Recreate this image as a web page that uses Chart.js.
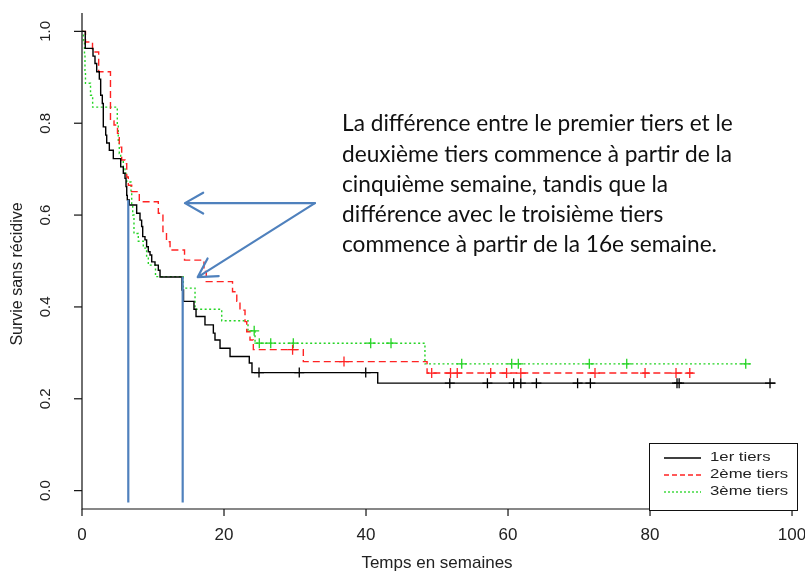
<!DOCTYPE html>
<html lang="fr">
<head>
<meta charset="utf-8">
<title>Survie sans récidive par tiers</title>
<script src="https://cdn.jsdelivr.net/npm/chart.js@4/dist/chart.umd.min.js"></script>
<style>
  html, body { margin: 0; padding: 0; background: #fff; }
  #wrap { position: relative; width: 805px; height: 571px; }
</style>
</head>
<body>
<div id="wrap"><canvas id="survChart" width="805" height="571"></canvas></div>
<script>
// Kaplan-Meier steps: week of each drop and survival right after it (last entry = end of follow-up)
const tier1Times = [0, 0.46, 1.55, 1.83, 2.07, 2.44, 2.63, 2.86, 3.0, 3.34, 3.48, 3.85, 4.41, 5.45, 5.82, 6.06, 6.2, 6.3, 6.38, 6.66, 7.7, 8.17, 8.4, 8.55, 8.87, 9.1, 9.34, 9.58, 9.82, 10.28, 10.75, 10.99, 14.08, 14.3, 15.77, 16.06, 17.32, 18.5, 18.73, 19.44, 20.85, 23.56, 23.94, 41.65, 97.7];
const tier1Surv  = [1.0, 0.963, 0.946, 0.930, 0.912, 0.896, 0.861, 0.843, 0.792, 0.774, 0.757, 0.741, 0.723, 0.705, 0.691, 0.680, 0.662, 0.643, 0.633, 0.622, 0.604, 0.589, 0.575, 0.553, 0.546, 0.531, 0.520, 0.513, 0.498, 0.491, 0.480, 0.465, 0.437, 0.412, 0.395, 0.379, 0.361, 0.343, 0.328, 0.310, 0.292, 0.278, 0.257, 0.234, 0.234];
const tier1Censor = [24.93, 30.6, 39.96, 51.8, 57.1, 60.8, 61.8, 64.0, 69.8, 71.6, 83.8, 84.1, 96.9];

const tier2Times = [0, 0.49, 1.48, 2.35, 4.01, 4.51, 5.0, 5.25, 5.59, 6.06, 6.3, 6.52, 7.0, 8.07, 10.75, 11.4, 11.9, 12.4, 14.44, 17.18, 17.5, 21.2, 21.8, 22.25, 22.96, 23.2, 23.66, 24.13, 31.17, 48.6, 86.6];
const tier2Surv  = [1.0, 0.977, 0.955, 0.912, 0.805, 0.796, 0.778, 0.748, 0.720, 0.712, 0.683, 0.665, 0.651, 0.629, 0.604, 0.564, 0.542, 0.524, 0.502, 0.477, 0.455, 0.433, 0.412, 0.393, 0.368, 0.346, 0.328, 0.307, 0.281, 0.256, 0.256];
const tier2Censor = [29.66, 36.9, 49.25, 51.9, 52.85, 57.56, 59.8, 61.8, 72.25, 79.3, 83.66, 85.6];

const tier3Times = [0, 0.2, 0.35, 0.42, 0.49, 1.2, 1.5, 4.97, 5.11, 5.25, 5.45, 5.82, 6.06, 6.3, 6.9, 7.0, 7.14, 7.32, 7.93, 8.63, 9.1, 9.34, 10.35, 14.27, 15.92, 19.68, 23.38, 24.37, 48.3, 94.3];
const tier3Surv  = [1.0, 0.98, 0.948, 0.915, 0.887, 0.861, 0.835, 0.796, 0.763, 0.734, 0.716, 0.702, 0.691, 0.672, 0.650, 0.625, 0.600, 0.560, 0.543, 0.528, 0.509, 0.491, 0.466, 0.441, 0.395, 0.370, 0.348, 0.321, 0.276, 0.276];
const tier3Censor = [24.25, 24.97, 26.58, 29.76, 40.66, 43.52, 53.48, 60.52, 61.45, 71.45, 76.72, 93.48];

// axis ticks
const weekTicks = [0, 20, 40, 60, 80, 100];
const survTicks = [0, 0.2, 0.4, 0.6, 0.8, 1.0];

// where the curves start to split (week, survival)
const splitWeeks = [6.52, 14.18];
const splitSurv  = [0.633, 0.465];
const splitFloor = -0.026;

// callout arrows (week, survival)
const arrowTail  = { x: 32.8, y: 0.626 };
const arrowHeads = [{ x: 14.5, y: 0.626 }, { x: 16.3, y: 0.465 }];

const seriesNames = ['1er tiers', '2ème tiers', '3ème tiers'];
const noteLines = [
    'La différence entre le premier tiers et le',
    'deuxième tiers commence à partir de la',
    'cinquième semaine, tandis que la',
    'différence avec le troisième tiers',
    'commence à partir de la 16e semaine.'
];

const RED = '#ff2323';
const GREEN = '#25d425';
const BLUE = '#4f81bd';
const R_FONT = '"Liberation Sans", Arial, sans-serif';

function levelAt(times, surv, t) {
    let s = surv[0];
    for (let i = 0; i < times.length; i++) {
        if (times[i] <= t) s = surv[i];
    }
    return s;
}

function stepData(times, surv) {
    return times.map((t, i) => ({ x: t, y: surv[i] }));
}

function censorData(times, surv, marks) {
    return marks.map(t => ({ x: t, y: levelAt(times, surv, t) }));
}

function curve(label, times, surv, color, dash) {
    return {
        label, data: stepData(times, surv), borderColor: color, borderWidth: 1.4,
        borderDash: dash, stepped: true, pointRadius: 0, fill: false, order: 3
    };
}

function marks(label, times, surv, cens, color) {
    return {
        label, data: censorData(times, surv, cens), showLine: false,
        pointStyle: 'cross', pointRadius: 5, pointBorderWidth: 1.3,
        borderColor: color, backgroundColor: color, order: 2
    };
}

const splitLines = splitWeeks.map((w, i) => ({
    label: 'split' + i,
    data: [{ x: w, y: splitSurv[i] }, { x: w, y: splitFloor }],
    borderColor: BLUE, borderWidth: 2.2, pointRadius: 0, order: 0
}));

// wide text, like the stretched R output
function wideText(ctx, text, px, py, sx) {
    ctx.save();
    ctx.translate(px, py);
    ctx.scale(sx, 1);
    ctx.fillText(text, 0, 0);
    ctx.restore();
}

// axes, legend and callout drawn R-style on top of the chart area
const decorPlugin = {
    id: 'decor',
    afterDraw(chart) {
        const { ctx, chartArea: a, scales: { x, y } } = chart;
        ctx.save();
        ctx.strokeStyle = '#111';
        ctx.fillStyle = '#222';
        ctx.lineWidth = 1.2;

        // frame lines
        ctx.beginPath();
        ctx.moveTo(a.left, a.top);
        ctx.lineTo(a.left, a.bottom);
        ctx.lineTo(a.right, a.bottom);
        ctx.stroke();

        // x ticks + labels
        ctx.font = '17px ' + R_FONT;
        ctx.textAlign = 'center';
        ctx.textBaseline = 'middle';
        weekTicks.forEach(v => {
            const px = x.getPixelForValue(v);
            ctx.beginPath();
            ctx.moveTo(px, a.bottom);
            ctx.lineTo(px, a.bottom + 7);
            ctx.stroke();
            ctx.fillText(String(v), px, 535);
        });

        // y ticks + rotated labels
        survTicks.forEach(v => {
            const py = y.getPixelForValue(v);
            ctx.beginPath();
            ctx.moveTo(a.left, py);
            ctx.lineTo(a.left - 8, py);
            ctx.stroke();
            ctx.save();
            ctx.translate(46, py);
            ctx.rotate(-Math.PI / 2);
            ctx.font = '15px "Liberation Sans Narrow", ' + R_FONT;
            ctx.fillText(v.toFixed(1), 0, 0);
            ctx.restore();
        });

        // axis titles
        ctx.font = '17px ' + R_FONT;
        ctx.fillText('Temps en semaines', 437, 563);
        ctx.save();
        ctx.translate(18, 274);
        ctx.rotate(-Math.PI / 2);
        ctx.font = '16px "Liberation Sans Narrow", ' + R_FONT;
        ctx.fillText('Survie sans récidive', 0, 0);
        ctx.restore();

        // legend box
        const lx = 649, ly = 443, lw = 148, lh = 67;
        ctx.fillStyle = '#fff';
        ctx.fillRect(lx, ly, lw, lh);
        ctx.lineWidth = 1;
        ctx.strokeRect(lx + 0.5, ly + 0.5, lw, lh);
        const legendStyles = [['#000', []], [RED, [5, 3]], [GREEN, [2, 2]]];
        const rows = [458, 475, 492];
        ctx.font = '12.5px ' + R_FONT;
        ctx.textAlign = 'left';
        legendStyles.forEach(([c, d], i) => {
            ctx.strokeStyle = c;
            ctx.setLineDash(d);
            ctx.lineWidth = 1.3;
            ctx.beginPath();
            ctx.moveTo(664, rows[i]);
            ctx.lineTo(701, rows[i]);
            ctx.stroke();
            ctx.setLineDash([]);
            ctx.fillStyle = '#222';
            wideText(ctx, seriesNames[i], 710, rows[i], 1.34);
        });

        // callout arrows
        const tx = x.getPixelForValue(arrowTail.x), ty = y.getPixelForValue(arrowTail.y);
        ctx.strokeStyle = BLUE;
        ctx.lineWidth = 2.2;
        ctx.lineCap = 'round';
        arrowHeads.forEach(h => {
            const hx = x.getPixelForValue(h.x), hy = y.getPixelForValue(h.y);
            const ang = Math.atan2(ty - hy, tx - hx);
            ctx.beginPath();
            ctx.moveTo(tx, ty);
            ctx.lineTo(hx, hy);
            [0.52, -0.52].forEach(da => {
                ctx.moveTo(hx, hy);
                ctx.lineTo(hx + 21 * Math.cos(ang + da), hy + 21 * Math.sin(ang + da));
            });
            ctx.stroke();
        });

        // note text
        ctx.fillStyle = '#111';
        ctx.textBaseline = 'middle';
        ctx.font = '19px Lato, "Open Sans", sans-serif';
        const w0 = ctx.measureText(noteLines[0]).width;
        const size = 19 * 391 / w0;
        ctx.font = size.toFixed(2) + 'px Lato, "Open Sans", sans-serif';
        noteLines.forEach((line, i) => ctx.fillText(line, 342, 124 + i * 30.2));

        ctx.restore();
    }
};

new Chart(document.getElementById('survChart'), {
    type: 'line',
    data: {
        datasets: [
            ...splitLines,
            marks('c1', tier1Times, tier1Surv, tier1Censor, '#000'),
            marks('c2', tier2Times, tier2Surv, tier2Censor, RED),
            marks('c3', tier3Times, tier3Surv, tier3Censor, GREEN),
            curve(seriesNames[0], tier1Times, tier1Surv, '#000', []),
            curve(seriesNames[1], tier2Times, tier2Surv, RED, [7, 4]),
            curve(seriesNames[2], tier3Times, tier3Surv, GREEN, [2, 2.5])
        ]
    },
    options: {
        responsive: false,
        animation: false,
        layout: { padding: { left: 82, right: 8, top: 13, bottom: 62 } },
        scales: {
            x: { type: 'linear', min: 0, max: 100.7, display: false },
            y: { type: 'linear', min: -0.04, max: 1.04, display: false }
        },
        plugins: { legend: { display: false }, tooltip: { enabled: false } }
    },
    plugins: [decorPlugin]
});
</script>
</body>
</html>
